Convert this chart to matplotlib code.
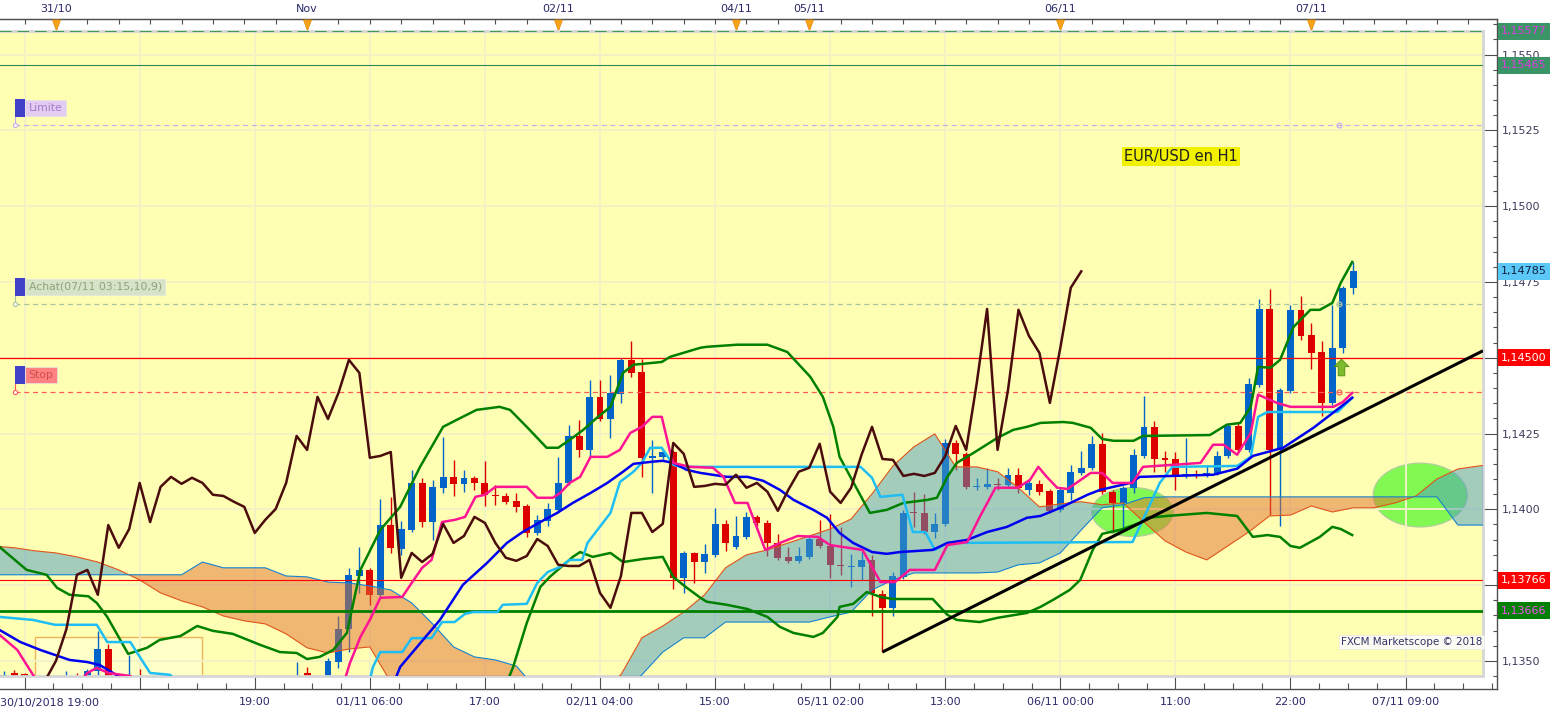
import matplotlib
matplotlib.use('Agg')
import matplotlib.pyplot as plt
import matplotlib.transforms as mtransforms
from matplotlib.patches import Rectangle, Ellipse
from matplotlib.ticker import FixedLocator, FuncFormatter, MultipleLocator
import numpy as np
import pandas as pd

plt.rcParams['font.family'] = ['DejaVu Sans']
nan = np.nan

# ---------------- data : EUR/USD H1, index 0 = 30/10/2018 19:00 ----------------
opens = [1.13430, 1.13460, 1.13457, 1.13430, 1.13417, 1.13424, 1.13437, 1.13447, 1.13437, 1.13467,
         1.13539, 1.13440, 1.13427, 1.13444, 1.13424, 1.13404, 1.13417, 1.13397, 1.13411, 1.13391,
         1.13404, 1.13388, 1.13378, 1.13397, 1.13411, 1.13391, 1.13404, 1.13417, 1.13430, 1.13460,
         1.13421, 1.13437, 1.13496, 1.13605, 1.13780, 1.13800, 1.13718, 1.13948, 1.13869, 1.13932,
         1.14087, 1.13958, 1.14071, 1.14107, 1.14084, 1.14104, 1.14087, 1.14044, 1.14044, 1.14028,
         1.14011, 1.13922, 1.13962, 1.13998, 1.14087, 1.14242, 1.14196, 1.14371, 1.14298, 1.14381,
         1.14493, 1.14453, 1.14170, 1.14173, 1.14189, 1.13774, 1.13856, 1.13826, 1.13850, 1.13952,
         1.13876, 1.13909, 1.13975, 1.13955, 1.13889, 1.13843, 1.13830, 1.13843, 1.13902, 1.13879,
         1.13817, 1.13810, 1.13810, 1.13833, 1.13721, 1.13675, 1.13777, 1.13988, 1.13988, 1.13925,
         1.13952, 1.14219, 1.14183, 1.14074, 1.14074, 1.14084, 1.14081, 1.14114, 1.14064, 1.14084,
         1.14061, 1.13998, 1.14054, 1.14120, 1.14137, 1.14216, 1.14058, 1.14021, 1.14071, 1.14176,
         1.14272, 1.14170, 1.14166, 1.14110, 1.14117, 1.14110, 1.14120, 1.14176, 1.14275, 1.14196,
         1.14411, 1.14661, 1.14196, 1.14391, 1.14658, 1.14576, 1.14519, 1.14351, 1.14533, 1.14731]
highs = [1.13467, 1.13470, 1.13460, 1.13440, 1.13437, 1.13450, 1.13467, 1.13460, 1.13473, 1.13599,
         1.13556, 1.13447, 1.13520, 1.13473, 1.13437, 1.13430, 1.13427, 1.13424, 1.13421, 1.13417,
         1.13414, 1.13404, 1.13411, 1.13424, 1.13430, 1.13424, 1.13437, 1.13444, 1.13496, 1.13480,
         1.13447, 1.13510, 1.13648, 1.13807, 1.13876, 1.13807, 1.14034, 1.14041, 1.13962, 1.14130,
         1.14104, 1.14097, 1.14239, 1.14163, 1.14130, 1.14110, 1.14160, 1.14081, 1.14054, 1.14054,
         1.14018, 1.13981, 1.14021, 1.14173, 1.14279, 1.14295, 1.14427, 1.14427, 1.14444, 1.14500,
         1.14556, 1.14496, 1.14229, 1.14196, 1.14196, 1.13863, 1.13859, 1.13886, 1.14005, 1.13965,
         1.13978, 1.13991, 1.13981, 1.13965, 1.13919, 1.13876, 1.13876, 1.13909, 1.13965, 1.13985,
         1.13942, 1.13853, 1.13863, 1.13850, 1.13734, 1.13793, 1.13998, 1.14058, 1.14051, 1.13988,
         1.14232, 1.14229, 1.14189, 1.14104, 1.14137, 1.14104, 1.14137, 1.14137, 1.14100, 1.14097,
         1.14067, 1.14071, 1.14147, 1.14193, 1.14242, 1.14252, 1.14064, 1.14077, 1.14199, 1.14374,
         1.14292, 1.14193, 1.14189, 1.14236, 1.14130, 1.14147, 1.14193, 1.14282, 1.14285, 1.14434,
         1.14694, 1.14727, 1.14401, 1.14675, 1.14704, 1.14615, 1.14556, 1.14675, 1.14737, 1.14816]
lows = [1.13404, 1.13411, 1.13404, 1.13397, 1.13391, 1.13404, 1.13417, 1.13411, 1.13424, 1.13454,
        1.13424, 1.13404, 1.13411, 1.13404, 1.13391, 1.13384, 1.13378, 1.13371, 1.13371, 1.13364,
        1.13358, 1.13352, 1.13358, 1.13378, 1.13371, 1.13364, 1.13378, 1.13397, 1.13411, 1.13404,
        1.13404, 1.13424, 1.13477, 1.13529, 1.13724, 1.13685, 1.13711, 1.13856, 1.13850, 1.13925,
        1.13942, 1.13899, 1.14054, 1.14044, 1.14058, 1.14064, 1.14011, 1.14015, 1.14018, 1.13991,
        1.13909, 1.13915, 1.13945, 1.13988, 1.14081, 1.14173, 1.14170, 1.14292, 1.14236, 1.14351,
        1.14437, 1.14107, 1.14054, 1.14166, 1.13737, 1.13724, 1.13757, 1.13790, 1.13843, 1.13863,
        1.13869, 1.13902, 1.13945, 1.13846, 1.13833, 1.13823, 1.13823, 1.13836, 1.13873, 1.13774,
        1.13784, 1.13744, 1.13767, 1.13648, 1.13529, 1.13648, 1.13770, 1.13942, 1.13919, 1.13905,
        1.13945, 1.14130, 1.14067, 1.14064, 1.14067, 1.14064, 1.14074, 1.14054, 1.14048, 1.14048,
        1.13988, 1.13991, 1.14031, 1.14114, 1.14130, 1.14051, 1.13925, 1.13942, 1.14054, 1.14170,
        1.14124, 1.14124, 1.14064, 1.14104, 1.14104, 1.14107, 1.14114, 1.14170, 1.14189, 1.14189,
        1.14404, 1.13981, 1.13945, 1.14384, 1.14559, 1.14463, 1.14308, 1.14345, 1.14516, 1.14711]
closes = [1.13454, 1.13437, 1.13430, 1.13417, 1.13424, 1.13437, 1.13447, 1.13437, 1.13467, 1.13539,
          1.13440, 1.13427, 1.13444, 1.13424, 1.13404, 1.13417, 1.13397, 1.13411, 1.13391, 1.13404,
          1.13388, 1.13378, 1.13397, 1.13411, 1.13391, 1.13404, 1.13417, 1.13430, 1.13444, 1.13421,
          1.13437, 1.13500, 1.13605, 1.13784, 1.13800, 1.13718, 1.13948, 1.13873, 1.13935, 1.14087,
          1.13958, 1.14074, 1.14107, 1.14084, 1.14104, 1.14087, 1.14048, 1.14044, 1.14025, 1.14008,
          1.13922, 1.13965, 1.14001, 1.14087, 1.14242, 1.14196, 1.14371, 1.14298, 1.14384, 1.14493,
          1.14450, 1.14170, 1.14176, 1.14189, 1.13774, 1.13856, 1.13826, 1.13853, 1.13952, 1.13889,
          1.13912, 1.13975, 1.13955, 1.13889, 1.13840, 1.13830, 1.13846, 1.13902, 1.13879, 1.13817,
          1.13813, 1.13813, 1.13833, 1.13724, 1.13675, 1.13780, 1.13988, 1.13988, 1.13925, 1.13952,
          1.14219, 1.14183, 1.14074, 1.14077, 1.14084, 1.14081, 1.14114, 1.14071, 1.14087, 1.14058,
          1.13995, 1.14064, 1.14124, 1.14137, 1.14216, 1.14058, 1.14021, 1.14071, 1.14180, 1.14272,
          1.14166, 1.14163, 1.14110, 1.14117, 1.14110, 1.14120, 1.14176, 1.14275, 1.14196, 1.14414,
          1.14661, 1.14196, 1.14394, 1.14658, 1.14572, 1.14516, 1.14351, 1.14533, 1.14731, 1.14785]

# moving average (blue) - vertices (hour index, price)
ma_h = [-0.4, 1.6, 3.5, 6.3, 8.0, 9.2, 10.6, 11.6, nan, 37.4, 37.9, 41.7, 43.9, 46.2, 48.1, 49.6,
        51.3, 52.9, 54.4, 56.1, 57.7, 59.2, 60.2, 62.0, 63.0, 64.0, 65.3, 66.6, 69.1, 71.1, 72.6,
        74.2, 75.5, 77.4, 78.7, 79.9, 81.2, 83.0, 84.4, 85.7, 88.8, 90.2, 92.1, 94.0, 95.9, 97.8,
        99.1, 101.0, 103.6, 104.8, 107.7, 108.6, 115.6, 117.9, 119.4, 122.3, 125.2, 127.8, 128.9]
ma_p = [1.13602, 1.13562, 1.13536, 1.13503, 1.13496, 1.13486, 1.13457, 1.13437, nan, 1.13437,
        1.13480, 1.13635, 1.13751, 1.13823, 1.13889, 1.13925, 1.13958, 1.13988, 1.14021, 1.14054,
        1.14087, 1.14124, 1.14150, 1.14157, 1.14160, 1.14153, 1.14130, 1.14120, 1.14107, 1.14107,
        1.14094, 1.14064, 1.14031, 1.13998, 1.13972, 1.13922, 1.13889, 1.13859, 1.13853, 1.13859,
        1.13866, 1.13889, 1.13899, 1.13925, 1.13942, 1.13972, 1.13978, 1.14005, 1.14048, 1.14064,
        1.14087, 1.14107, 1.14114, 1.14134, 1.14176, 1.14203, 1.14269, 1.14338, 1.14368]

# tenkan (pink)
tenkan_h = [-0.4, 1.3, 2.8, 3.5, nan, 7.3, 8.0, 8.9, 10.0, 12.1, 13.0, nan,
            32.6, 33.1, 34.1, 35.0, 36.0, 38.1, 39.0, 40.0, 40.9, 41.9,
            43.1, 44.1, 45.1, 46.0, 47.0, 50.0, 51.0, 52.5, 53.2, 54.1,
            55.1, 56.1, 57.7, 58.9, 59.9, 61.0, 62.0, 62.9, 63.7, 64.0,
            65.6, 67.8, 68.8, 69.9, 71.1, 72.8, 74.2, 75.9, 77.8, 79.0,
            82.1, 83.8, 85.2, 86.6, 89.0, 90.2, 92.1, 93.3, 94.8, 96.9,
            98.1, 98.9, 99.7, 100.7, 101.7, 103.9, 105.0, 106.0, 107.9, 108.9,
            114.4, 115.6, 116.6, 117.9, 119.2, 119.9, 121.7, 123.0, 127.1, 128.0, 128.9]
tenkan_p = [1.13586, 1.13536, 1.13454, 1.13421, nan, 1.13430, 1.13460, 1.13477, 1.13460, 1.13450, 1.13421, nan,
            1.13437, 1.13493, 1.13579, 1.13635, 1.13708, 1.13711, 1.13757, 1.13807, 1.13833, 1.13958,
            1.13965, 1.13975, 1.14041, 1.14048, 1.14074, 1.14074, 1.14038, 1.14038, 1.14054, 1.14087,
            1.14107, 1.14173, 1.14173, 1.14196, 1.14252, 1.14272, 1.14305, 1.14305, 1.14189, 1.14153,
            1.14140, 1.14137, 1.14107, 1.14021, 1.14021, 1.13866, 1.13889, 1.13912, 1.13909, 1.13882,
            1.13866, 1.13760, 1.13760, 1.13800, 1.13800, 1.13882, 1.13892, 1.13975, 1.14071, 1.14071,
            1.14097, 1.14140, 1.14107, 1.14071, 1.14067, 1.14120, 1.14120, 1.14087, 1.14087, 1.14140,
            1.14153, 1.14213, 1.14213, 1.14180, 1.14252, 1.14378, 1.14351, 1.14338, 1.14338, 1.14354, 1.14384]

# kijun (light blue)
kijun_h = [-0.4, 2.8, 4.9, 8.9, 9.9, 12.1, 14.0, 15.9, 16.4, nan,
           35.0, 35.3, 36.0, 38.1, 39.0, 40.9, 41.9, 43.1, 44.1, 44.9,
           47.2, 47.7, 50.0, 51.0, 52.0, 53.2, 54.1, 55.3, 55.8, 58.0,
           58.9, 60.2, 61.0, 61.8, 62.9, 64.0, 64.7, 81.9, 83.0, 83.8,
           85.9, 86.9, 88.1, 89.0, 90.2, 107.9, 109.9, 110.5, 111.7, 117.9,
           119.2, 119.9, 120.8, 127.5, 128.9]
kijun_p = [1.13645, 1.13635, 1.13619, 1.13619, 1.13562, 1.13562, 1.13460, 1.13454, 1.13437, nan,
           1.13437, 1.13480, 1.13529, 1.13529, 1.13575, 1.13575, 1.13628, 1.13628, 1.13655, 1.13661,
           1.13661, 1.13685, 1.13688, 1.13757, 1.13793, 1.13810, 1.13833, 1.13833, 1.13889, 1.13988,
           1.14090, 1.14124, 1.14153, 1.14203, 1.14203, 1.14147, 1.14140, 1.14140, 1.14104, 1.14041,
           1.14048, 1.13925, 1.13925, 1.13866, 1.13889, 1.13892, 1.14041, 1.14087, 1.14140, 1.14143,
           1.14173, 1.14305, 1.14321, 1.14321, 1.14368]

# Bollinger bands (green)
bb_up_h = [-0.4, 2.2, 4.1, 5.1, 6.3, 8.1, 8.9, 9.9, 11.9, 13.7,
           14.9, 16.9, 18.5, 20.0, 21.9, 24.5, 26.4, 28.0, 29.0, 30.2,
           31.5, 32.8, 34.1, 36.0, 37.9, 39.8, 42.0, 43.3, 45.2, 47.4,
           48.4, 50.0, 51.9, 53.0, 54.1, 55.4, 56.7, 58.0, 59.2, 60.2,
           62.9, 63.7, 66.6, 67.2, 70.1, 73.0, 74.9, 77.1, 78.3, 79.3,
           79.9, 81.2, 82.8, 84.4, 86.0, 88.3, 89.2, 90.2, 91.1, 92.7,
           95.0, 96.5, 97.8, 99.1, 101.3, 102.2, 103.9, 105.0, 106.1, 108.0,
           108.9, 115.3, 116.9, 118.2, 119.2, 119.9, 121.1, 122.0, 123.3, 124.9,
           125.8, 127.0, 127.8, 128.9]
bb_up_p = [1.13876, 1.13800, 1.13784, 1.13741, 1.13718, 1.13713, 1.13691, 1.13645, 1.13523, 1.13543,
           1.13569, 1.13582, 1.13615, 1.13599, 1.13589, 1.13553, 1.13529, 1.13526, 1.13506, 1.13513,
           1.13536, 1.13592, 1.13800, 1.13932, 1.14008, 1.14140, 1.14272, 1.14295, 1.14328, 1.14338,
           1.14328, 1.14272, 1.14203, 1.14203, 1.14229, 1.14262, 1.14302, 1.14338, 1.14450, 1.14477,
           1.14486, 1.14503, 1.14533, 1.14536, 1.14543, 1.14543, 1.14519, 1.14437, 1.14371, 1.14272,
           1.14173, 1.14090, 1.13988, 1.13998, 1.14021, 1.14031, 1.14038, 1.14107, 1.14153, 1.14186,
           1.14236, 1.14262, 1.14272, 1.14285, 1.14288, 1.14285, 1.14269, 1.14232, 1.14226, 1.14226,
           1.14242, 1.14245, 1.14279, 1.14285, 1.14338, 1.14470, 1.14467, 1.14493, 1.14602, 1.14658,
           1.14658, 1.14681, 1.14747, 1.14816]
bb_lo_h = [48.2, 48.7, 50.0, 51.3, 52.2, 54.4, 55.1, 56.3, 58.0, 59.2,
           61.1, 63.0, 64.0, 65.3, 66.6, 67.2, 69.1, 71.1, 73.0, 74.2,
           75.5, 77.4, 78.3, 79.7, 79.9, 81.2, 82.5, 83.8, 85.0, 88.8,
           90.2, 91.1, 93.3, 95.0, 97.8, 99.1, 100.3, 101.9, 102.9, 104.1,
           105.0, 106.7, 108.6, 109.3, 111.2, 115.0, 117.9, 119.4, 120.8, 122.0,
           123.0, 123.9, 125.8, 127.0, 127.8, 128.9]
bb_lo_p = [1.13437, 1.13480, 1.13625, 1.13744, 1.13777, 1.13843, 1.13859, 1.13843, 1.13856, 1.13826,
           1.13836, 1.13843, 1.13777, 1.13741, 1.13708, 1.13695, 1.13685, 1.13671, 1.13645, 1.13612,
           1.13592, 1.13579, 1.13592, 1.13645, 1.13678, 1.13688, 1.13727, 1.13711, 1.13704, 1.13704,
           1.13652, 1.13635, 1.13628, 1.13642, 1.13658, 1.13678, 1.13701, 1.13734, 1.13767, 1.13866,
           1.13919, 1.13932, 1.13955, 1.13972, 1.13978, 1.13988, 1.13978, 1.13909, 1.13915, 1.13909,
           1.13879, 1.13873, 1.13909, 1.13942, 1.13935, 1.13915]

# Ichimoku cloud, sampled every 2 hours (h = -1, 1, 3 ... 143)
cloud_h = list(range(-1, 144, 2))
senkou_a = [1.13879, 1.13873, 1.13863, 1.13856, 1.13843, 1.13826, 1.13800, 1.13767, 1.13724, 1.13698,
            1.13678, 1.13648, 1.13632, 1.13622, 1.13589, 1.13543, 1.13526, 1.13539, 1.13546, 1.13430,
            1.13404, 1.13404, 1.13404, 1.13404, 1.13404, 1.13404, 1.13404, 1.13404, 1.13404, 1.13404,
            1.13454, 1.13576, 1.13615, 1.13661, 1.13718, 1.13807, 1.13850, 1.13866, 1.13889, 1.13912,
            1.13935, 1.13968, 1.14051, 1.14143, 1.14206, 1.14249, 1.14140, 1.14140, 1.14124, 1.14071,
            1.14008, 1.14018, 1.14025, 1.14015, 1.14021, 1.13958, 1.13896, 1.13859, 1.13833, 1.13879,
            1.13925, 1.13978, 1.13981, 1.14011, 1.13991, 1.14005, 1.14005, 1.14021, 1.14044, 1.14100,
            1.14133, 1.14143, 1.14150]
senkou_b = [1.13784, 1.13784, 1.13784, 1.13784, 1.13784, 1.13784, 1.13784, 1.13784, 1.13784, 1.13784,
            1.13826, 1.13807, 1.13807, 1.13807, 1.13780, 1.13777, 1.13760, 1.13757, 1.13747, 1.13734,
            1.13691, 1.13622, 1.13546, 1.13513, 1.13503, 1.13483, 1.13404, 1.13388, 1.13371, 1.13371,
            1.13388, 1.13454, 1.13529, 1.13576, 1.13576, 1.13628, 1.13628, 1.13628, 1.13628, 1.13628,
            1.13645, 1.13661, 1.13734, 1.13767, 1.13790, 1.13790, 1.13790, 1.13790, 1.13793, 1.13817,
            1.13823, 1.13856, 1.13932, 1.14005, 1.14015, 1.14038, 1.14041, 1.14041, 1.14041, 1.14041,
            1.14041, 1.14041, 1.14041, 1.14041, 1.14041, 1.14041, 1.14041, 1.14041, 1.14041, 1.14041,
            1.13948, 1.13948, 1.13948]

# horizontal levels and orders
level_top_dash = 1.15577
level_top = 1.15465
level_red = 1.14500
level_red_low = 1.13766
level_green = 1.13666
order_limite = 1.15268
order_achat = 1.14678
order_stop = 1.14387

trend_h = [84, 141.4]
trend_p = [1.13529, 1.14523]

# ---------------- layout (pixels) ----------------
W, H = 1555, 715
PL, PR, PT, PB = 0, 1483, 31, 676      # plot area
FR, FT, FB = 1497, 19, 689             # axis frame
X0, X1 = -0.35, 141.4
Y0, Y1 = 1.13450, 1.15578
ppx = (Y1 - Y0) / (PB - PT)            # price per pixel
hpx = (X1 - X0) / (PR - PL)            # hours per pixel

fig = plt.figure(figsize=(W / 100, H / 100), dpi=100, facecolor='white')
fax = fig.add_axes([0, 1 - FB / H, FR / W, (FB - FT) / H])
ax = fig.add_axes([PL / W, 1 - PB / H, (PR - PL) / W, (PB - PT) / H])
fax.set_zorder(0)
ax.set_zorder(1)

ax.set_xlim(X0, X1)
ax.set_ylim(Y0, Y1)
fax.set_xlim(X0, X0 + FR * hpx)
fax.set_ylim(Y0 - (FB - PB) * ppx, Y1 + (PT - FT) * ppx)

ax.set_facecolor('#FFFFB4')
for s in ['top', 'right', 'bottom']:
    ax.spines[s].set_color('#D6D6D6')
    ax.spines[s].set_linewidth(2)
ax.spines['left'].set_visible(False)

# time axis helpers
times = list(pd.date_range('2018-10-30 19:00', periods=70, freq='h')) + \
        list(pd.date_range('2018-11-04 17:00', periods=80, freq='h'))
bot_ticks = list(range(2, 143, 11))
bot_labels = []
prev = None
for h in bot_ticks:
    t = times[h]
    if prev is not None and t.date() == prev.date():
        lab = t.strftime('%H:%M')
    else:
        lab = t.strftime('%d/%m %H:%M')
    bot_labels.append(lab if h > 20 else '')
    prev = t

# faint grid
ax.set_xticks(bot_ticks)
ax.set_yticks(np.arange(1.1350, 1.15501, 0.0025))
ax.grid(True, color='#F2F2C6', lw=1.4, zorder=0)
ax.tick_params(length=0, labelleft=False, labelbottom=False)

# user rectangle + ellipses (under candles)
ax.add_patch(Rectangle((3.0, 1.13400), 16.0, 0.00179, fc='#FFFFC8', ec='#F0B458', lw=1, zorder=1))
ax.add_patch(Ellipse((107.9, 1.13991), 7.8, 0.00162, fc='#82F852', ec='#B4C8A4', lw=0.8, zorder=1.5))
ax.add_patch(Ellipse((135.4, 1.14047), 9.0, 0.00211, fc='#82F852', ec='#B4C8A4', lw=0.8, zorder=1.5))

# candles
idx = np.arange(len(opens))
o, hi, lo, c = map(np.array, (opens, highs, lows, closes))
col = np.where(c > o, '#0064C8', '#DC0000')
ax.vlines(idx, lo, hi, colors=col, lw=1, zorder=2)
ax.bar(idx, np.maximum(np.abs(c - o), 0.00004), bottom=np.minimum(o, c), width=0.66,
       color=col, lw=0, zorder=2.1)

# cloud on top of candles, semi transparent
ch = np.array(cloud_h)
A = np.array(senkou_a)
B = np.array(senkou_b)
ax.fill_between(ch, A, B, where=A >= B, interpolate=True, color='#4B9BC2', alpha=0.5, lw=0, zorder=3)
ax.fill_between(ch, A, B, where=A < B, interpolate=True, color='#E17130', alpha=0.5, lw=0, zorder=3)
ax.plot(ch, A, color='#E0541A', lw=0.8, zorder=3.5)
ax.plot(ch, B, color='#1482D2', lw=0.8, zorder=3.5)

# horizontal levels
ax.axhline(level_top_dash, color='#3A9A50', lw=1.4, ls=(0, (6, 3)), zorder=4)
ax.axhline(level_top, color='#2E8B57', lw=0.8, zorder=4)
ax.axhline(level_red, color='#FF0000', lw=0.9, zorder=4)
ax.axhline(level_red_low, color='#FF0000', lw=0.8, zorder=4)
ax.axhline(level_green, color='#008000', lw=2, zorder=4)

# indicators
ax.plot(bb_up_h, bb_up_p, color='#008000', lw=1.8, zorder=5)
ax.plot(bb_lo_h, bb_lo_p, color='#008000', lw=1.8, zorder=5)
ax.plot(kijun_h, kijun_p, color='#1EBEF5', lw=1.8, zorder=5.1)
ax.plot(ma_h, ma_p, color='#0000F0', lw=1.8, zorder=5.2)
ax.plot(tenkan_h, tenkan_p, color='#FF1493', lw=1.8, zorder=5.3)
ax.plot(idx - 26, closes, color='#4A0C0C', lw=1.8, zorder=5.4)   # chikou span

ax.plot(trend_h, trend_p, color='black', lw=2.2, zorder=6, solid_capstyle='butt')

# orders on the left
ytr = ax.get_yaxis_transform()
xf = 15 / (PR - PL)
orders = [(order_limite, 'Limite', '#E2CCF2', '#A67CC8', '#C8ADEB'),
          (order_achat, 'Achat(07/11 03:15,10,9)', '#D6E3C8', '#8FA378', '#A9C49C'),
          (order_stop, 'Stop', '#FF8282', '#D24B4B', '#FF5A5A')]
for price, name, face, tcol, lcol in orders:
    ax.axhline(price, xmin=xf, color=lcol, lw=0.9, ls=(0, (4, 3)), zorder=4)
    ax.plot([xf, xf], [price, price + 8 * ppx], color=lcol, lw=0.8, transform=ytr, zorder=6)
    ax.plot([xf], [price], marker='o', ms=3, mfc='white', mec=lcol, mew=0.8, transform=ytr, zorder=6)
    ax.plot([127.6], [price], marker='o', ms=3.5, mfc='none', mec=lcol, mew=0.9, zorder=6)
    ax.add_patch(Rectangle((xf, price + 8 * ppx), 10 / (PR - PL), 18 * ppx, transform=ytr,
                           fc='#4040C8', ec='none', zorder=6))
    ax.text(xf + 13.5 / (PR - PL), price + 17 * ppx, name, transform=ytr, ha='left', va='center',
            fontsize=7.8, color=tcol, zorder=6,
            bbox=dict(boxstyle='square,pad=0.3', fc=face, ec='#E4E4E4', lw=0.5))

# signal arrow
arrow = [(0, 1), (0.9, 0.1), (0.4, 0.1), (0.4, -1), (-0.4, -1), (-0.4, 0.1), (-0.9, 0.1), (0, 1)]
ax.plot([127.8], [1.14470], marker=arrow, ms=12, mfc='#7DBB2E', mec='#4E8A12', mew=0.6, zorder=7)

ax.text(112.5, 1.15163, 'EUR/USD en H1', ha='center', va='center', fontsize=10.5, color='#202020',
        zorder=7, bbox=dict(boxstyle='square,pad=0.15', fc='#F0F000', ec='none'))
ax.text(1 - 1 / (PR - PL), (PB - 642) / (PB - PT), 'FXCM Marketscope \u00a9 2018', transform=ax.transAxes,
        ha='right', va='center', fontsize=7.5, color='#333366', zorder=7,
        bbox=dict(boxstyle='square,pad=0.2', fc='#FBFBF4', ec='#E6E6E6', lw=0.5))

# ---------------- axis frame ----------------
fax.set_facecolor('white')
fax.spines['left'].set_visible(False)
for s in ['top', 'right', 'bottom']:
    fax.spines[s].set_color('#505050')
    fax.spines[s].set_linewidth(1)

# price tags sit on these scale values, so their own labels are hidden
hidden_scale = [1.1450, 1.1375]


def price_fmt(v, pos):
    if any(abs(v - hv) < 1e-6 for hv in hidden_scale):
        return ''
    return f'{v:.4f}'.replace('.', ',')


fax.yaxis.tick_right()
fax.set_yticks(np.arange(1.1350, 1.15501, 0.0025))
fax.yaxis.set_minor_locator(MultipleLocator(0.0005))
fax.yaxis.set_major_formatter(FuncFormatter(price_fmt))
fax.tick_params(axis='y', which='major', direction='in', length=10, width=0.8, color='#505050',
                pad=3.6, labelsize=8, labelcolor='#3C3C5A')
fax.tick_params(axis='y', which='minor', direction='in', length=3, width=0.8, color='#505050')

fax.set_xticks(bot_ticks, bot_labels)
fax.xaxis.set_minor_locator(FixedLocator(np.arange(2, 143, 2.75)))
fax.tick_params(axis='x', which='major', direction='in', length=8.6, width=0.8, color='#505050',
                pad=5.5, labelsize=8, labelcolor='#2A2A6A')
fax.tick_params(axis='x', which='minor', direction='in', length=4, width=0.8, color='#505050')
fax.text(X0, 0, times[0].strftime('%d/%m/%Y %H:%M'),
         transform=mtransforms.offset_copy(fax.get_xaxis_transform(), fig=fig, y=-14, units='dots'),
         ha='left', va='center', fontsize=8, color='#2A2A6A')

# top axis: day marks
day_h = sorted([h for h, t in enumerate(times[:143]) if t.hour == 0] + [70])
day_lab = ['Nov' if times[h].day == 1 else times[h].strftime('%d/%m') for h in day_h]
minor_top = [h for h, t in enumerate(times[:143]) if t.hour % 3 == 0 and h not in day_h]
top = fax.secondary_xaxis('top')
top.set_xticks(day_h, day_lab)
top.xaxis.set_minor_locator(FixedLocator(minor_top))
top.tick_params(which='major', direction='in', length=5, width=0.8, color='#505050',
                pad=3.6, labelsize=8, labelcolor='#2A2A6A')
top.tick_params(which='minor', direction='in', length=3.5, width=0.8, color='#505050')
top.spines['top'].set_color('#505050')
tri = [(-0.36, 0.5), (0.36, 0.5), (0, -0.5), (-0.36, 0.5)]
fax.plot(day_h, [1.0] * len(day_h), ls='none', marker=tri, ms=8, mfc='#F7A21B', mec='#E08A00', mew=0.5,
         clip_on=False, zorder=8,
         transform=mtransforms.offset_copy(fax.get_xaxis_transform(), fig=fig, y=-5.5, units='dots'))

# coloured price tags on the right scale
tags = [(level_top_dash, '#3A9466', '#E03CE0'),
        (level_top, '#3A9466', '#E03CE0'),
        (closes[-1], '#5BC8F8', '#102040'),
        (level_red, '#FF0000', 'white'),
        (level_red_low, '#FF0000', 'white'),
        (level_green, '#008000', '#FF50FF')]
for price, face, tcol in tags:
    fax.text(1 + 4 / FR, price, f'{price:.5f}'.replace('.', ','), transform=fax.get_yaxis_transform(),
             ha='left', va='center', fontsize=8, color=tcol, zorder=9,
             bbox=dict(boxstyle='square,pad=0.3', fc=face, ec='none'))

fig.savefig('out.png', dpi=100, facecolor='white')
plt.close(fig)
